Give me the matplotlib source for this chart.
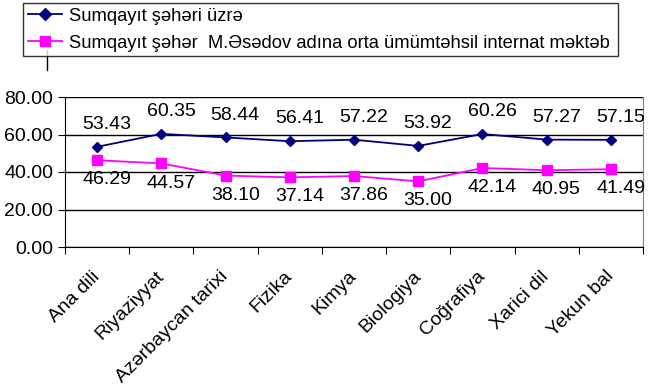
import matplotlib
matplotlib.use("Agg")
import matplotlib.pyplot as plt
from matplotlib.lines import Line2D
from matplotlib.transforms import ScaledTranslation

plt.rcParams['font.family'] = ['Liberation Sans', 'DejaVu Sans']

categories = ["Ana dili", "Riyaziyyat", "Azərbaycan tarixi", "Fizika", "Kimya",
              "Biologiya", "Coğrafiya", "Xarici dil", "Yekun bal"]
city = [53.43, 60.35, 58.44, 56.41, 57.22, 53.92, 60.26, 57.27, 57.15]
school = [46.29, 44.57, 38.10, 37.14, 37.86, 35.00, 42.14, 40.95, 41.49]
series_names = ["Sumqayıt şəhəri üzrə",
                "Sumqayıt şəhər  M.Əsədov adına orta ümümtəhsil internat məktəb"]
yticks = [0, 20, 40, 60, 80]

fig = plt.figure(figsize=(6.5, 3.86), dpi=100)
W, H = 650, 386
ax = fig.add_axes([65 / W, 1 - 247 / H, (643 - 65) / W, (247 - 97) / H])

x = list(range(len(categories)))
l1, = ax.plot(x, city, color='#000080', marker='D', markersize=5.5, linewidth=1.3,
              label=series_names[0])
l2, = ax.plot(x, school, color='#FF00FF', marker='s', markersize=6.5, linewidth=1.3,
              label=series_names[1])

for xi, v in zip(x, city):
    ax.annotate(f"{v:.2f}", (xi, v), xytext=(7, 10), textcoords='offset points',
                ha='center', va='bottom', fontsize=14)
for xi, v in zip(x, school):
    ax.annotate(f"{v:.2f}", (xi, v), xytext=(7, -8), textcoords='offset points',
                ha='center', va='top', fontsize=14)

ax.set_xlim(-0.5, len(categories) - 0.5)
ax.set_ylim(0, 80)
ax.set_yticks(yticks)
ax.set_yticklabels([f"{t:.2f}" for t in yticks], fontsize=14)
ax.yaxis.grid(True, color='black', linewidth=1)
ax.set_axisbelow(True)

ax.set_xticks([i - 0.5 for i in range(len(categories) + 1)])
ax.set_xticklabels([])
ax.set_xticks(x, minor=True)
ax.set_xticklabels(categories, minor=True, rotation=45, ha='right',
                   rotation_mode='anchor', fontsize=14)
ax.tick_params(axis='x', which='minor', length=0, pad=15)
ax.tick_params(axis='x', which='major', length=5, color='black')
ax.tick_params(axis='y', length=5, color='black')
off = ScaledTranslation(-6 / 100, 0, fig.dpi_scale_trans)
for lab in ax.get_xticklabels(minor=True):
    lab.set_transform(lab.get_transform() + off)

ax.spines['top'].set_visible(False)
ax.spines['right'].set_color('#808080')
ax.spines['right'].set_linewidth(0.8)
ax.spines['left'].set_color('black')
ax.spines['bottom'].set_color('black')

leg = fig.legend(handles=[l1, l2], loc='upper left',
                 bbox_to_anchor=(23 / W, 1 - 64 / H, 595 / W, 61 / H),
                 mode='expand', fontsize=13.2, frameon=True, fancybox=False,
                 edgecolor='black', handlelength=1.9, handletextpad=0.38,
                 borderaxespad=0, labelspacing=0.55, borderpad=0.25,
                 markerscale=1.2)
leg.get_frame().set_linewidth(1)

# small stray leader stroke below the second legend marker, as in the reference
fig.add_artist(Line2D([47 / W, 47 / W], [1 - 50 / H, 1 - 70 / H],
                      transform=fig.transFigure, color='black', linewidth=1))

fig.savefig("out.png", dpi=100)
